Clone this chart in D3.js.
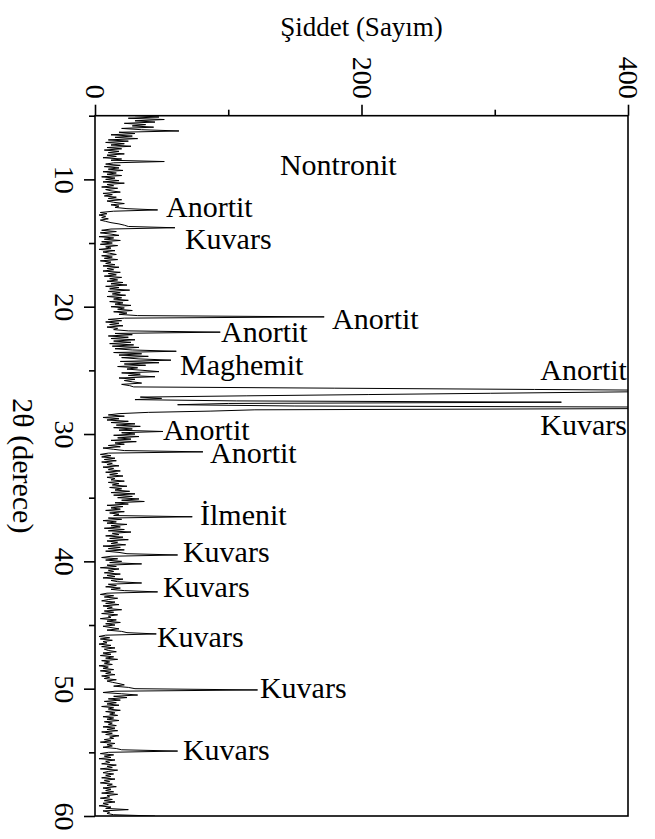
<!DOCTYPE html>
<html>
<head>
<meta charset="utf-8">
<script src="https://cdn.jsdelivr.net/npm/d3@7/dist/d3.min.js"></script>
<style>
  html, body { margin: 0; padding: 0; background: #fff; }
  svg { display: block; }
</style>
</head>
<body>
<svg id="chart" width="655" height="839"></svg>
<script>
// XRD scan: counts recorded every 0.1° from 5.0° to 60.0° (2θ)
const scanStart = 5.0;
const scanStep = 0.1;
const counts = [
  30, 48, 25, 52, 30, 45, 22, 38, 28, 44,      // 5
  20, 35, 63, 18, 30, 12, 28, 15, 32, 10,      // 6
  25, 8, 22, 12, 27, 9, 20, 7, 18, 10,         // 7
  22, 9, 16, 6, 20, 12, 52, 14, 8, 19,         // 8
  7, 18, 10, 21, 6, 16, 9, 20, 5, 15,          // 9
  8, 18, 6, 22, 9, 14, 5, 17, 8, 12,           // 10
  19, 6, 13, 7, 16, 10, 20, 9, 14, 22,         // 11
  12, 18, 15, 24, 47, 14, 4, 9, 3, 8,          // 12
  5, 10, 4, 8, 12, 18, 22, 25, 60, 12,         // 13
  5, 16, 4, 12, 18, 3, 14, 7, 19, 5,           // 14
  13, 4, 17, 8, 12, 3, 15, 6, 11, 16,          // 15
  5, 13, 7, 17, 4, 12, 8, 15, 6, 18,           // 16
  9, 14, 6, 19, 10, 16, 7, 20, 11, 17,         // 17
  9, 21, 12, 24, 8, 18, 11, 26, 10, 19,        // 18
  13, 23, 9, 20, 14, 25, 11, 21, 15, 27,       // 19
  12, 22, 17, 28, 14, 24, 18, 32, 172, 22,     // 20
  10, 20, 8, 18, 11, 21, 9, 17, 14, 25,        // 21
  94, 15, 28, 10, 25, 12, 30, 14, 27, 11,      // 22
  29, 13, 33, 15, 28, 61, 14, 35, 18, 40,      // 23
  20, 33, 57, 19, 48, 22, 38, 17, 32, 24,      // 24
  36, 48, 20, 34, 25, 45, 18, 30, 22, 28,      // 25
  35, 20, 26, 29, 180, 330, 480, 388, 297, 205, // 26
  114, 34, 50, 30, 106, 350, 100, 62, 150, 470, // 27
  420, 120, 87, 40, 18, 10, 22, 6, 18, 9,      // 28
  25, 12, 30, 16, 34, 14, 28, 18, 51, 20,      // 29
  30, 14, 33, 17, 27, 12, 31, 15, 22, 10,      // 30
  19, 6, 14, 22, 81, 10, 4, 12, 5, 15,         // 31
  7, 16, 5, 13, 9, 18, 6, 14, 10, 19,          // 32
  8, 17, 11, 21, 9, 15, 12, 22, 10, 18,        // 33
  13, 24, 11, 20, 15, 26, 12, 30, 14, 28,      // 34
  17, 33, 20, 37, 15, 25, 9, 21, 12, 19,       // 35
  8, 22, 11, 18, 14, 73, 10, 20, 6, 16,        // 36
  9, 24, 12, 19, 7, 22, 10, 27, 13, 18,        // 37
  8, 21, 11, 25, 9, 17, 12, 23, 6, 19,         // 38
  10, 22, 8, 18, 24, 62, 12, 5, 17, 8,         // 39
  20, 11, 35, 9, 16, 4, 18, 10, 14, 7,         // 40
  19, 9, 15, 6, 21, 12, 17, 35, 10, 16,        // 41
  8, 19, 12, 22, 47, 9, 4, 14, 7, 17,          // 42
  10, 5, 15, 8, 18, 6, 13, 9, 20, 7,           // 43
  14, 5, 17, 10, 12, 4, 16, 9, 19, 8,          // 44
  15, 6, 12, 18, 9, 20, 24, 46, 8, 3,          // 45
  11, 4, 13, 6, 9, 3, 12, 5, 15, 7,            // 46
  10, 16, 6, 12, 4, 14, 8, 17, 5, 11,          // 47
  7, 13, 3, 10, 6, 14, 4, 12, 8, 15,           // 48
  5, 11, 7, 16, 9, 13, 18, 22, 14, 25,         // 49
  30, 122, 15, 6, 20, 32, 14, 24, 10, 19,      // 50
  7, 16, 9, 18, 5, 14, 10, 19, 8, 15,          // 51
  11, 17, 6, 14, 9, 18, 7, 13, 10, 16,         // 52
  6, 15, 9, 17, 5, 13, 8, 18, 11, 14,          // 53
  7, 12, 4, 15, 9, 13, 6, 16, 20, 62,          // 54
  10, 4, 14, 7, 12, 3, 15, 8, 11, 5,           // 55
  16, 9, 13, 4, 17, 10, 6, 14, 8, 12,          // 56
  5, 15, 7, 11, 4, 13, 9, 16, 6, 12,           // 57
  8, 14, 5, 17, 9, 11, 4, 13, 7, 15,           // 58
  6, 10, 3, 12, 8, 25, 6, 11, 9, 14,           // 59
  45                                           // 60
];

// Axis ticks
const countMajorTicks = [0, 200, 400];
const countMinorTicks = [100, 300];
const angleMajorTicks = [10, 20, 30, 40, 50, 60];
const angleMinorTicks = [5, 15, 25, 35, 45, 55];

// Phase identifications: name, text anchor (2θ of baseline, count at text edge), side
const phaseNames  = ["Nontronit", "Anortit", "Kuvars", "Anortit", "Anortit", "Maghemit", "Anortit", "Kuvars",
                     "Anortit", "Anortit", "İlmenit", "Kuvars", "Kuvars", "Kuvars", "Kuvars", "Kuvars"];
const phaseTheta  = [9.66, 12.95, 15.47, 21.75, 22.77, 25.36, 25.75, 30.07,
                     30.47, 32.27, 37.14, 40.05, 42.8, 46.72, 50.73, 55.6];
const phaseCount  = [138.8, 53.3, 67.5, 177.9, 94.6, 63.8, 399.2, 399.2,
                     51, 86.3, 78.8, 66, 51, 46.5, 123.8, 66];
const phaseAnchor = ["start", "start", "start", "start", "start", "start", "end", "end",
                     "start", "start", "start", "start", "start", "start", "start", "start"];

const W = 655, H = 839;
const margin = { top: 115.7, right: 27, bottom: 23, left: 95 };
const SERIF = '"Liberation Serif", serif';

const svg = d3.select("#chart");

// Intensity runs left→right along the top, 2θ runs top→bottom
const x = d3.scaleLinear().domain([0, 400]).range([margin.left, W - margin.right]);
const y = d3.scaleLinear().domain([5, 60]).range([margin.top, H - margin.bottom]);

const scan = counts.map((c, i) => ({ theta: +(scanStart + i * scanStep).toFixed(2), count: c }));

svg.append("defs").append("clipPath").attr("id", "plot-clip")
  .append("rect")
  .attr("x", x(0)).attr("y", y(5))
  .attr("width", x(400) - x(0)).attr("height", y(60) - y(5));

const line = d3.line()
  .x(d => x(d.count))
  .y(d => y(d.theta));

svg.append("path")
  .datum(scan)
  .attr("clip-path", "url(#plot-clip)")
  .attr("fill", "none")
  .attr("stroke", "#000")
  .attr("stroke-width", 1)
  .attr("stroke-linejoin", "miter")
  .attr("d", line);

// Frame
svg.append("rect")
  .attr("x", x(0)).attr("y", y(5))
  .attr("width", x(400) - x(0)).attr("height", y(60) - y(5))
  .attr("fill", "none").attr("stroke", "#000").attr("stroke-width", 1.6);

const FS = 28;

// Top axis (counts)
const topMajor = svg.append("g")
  .attr("transform", `translate(0,${y(5)})`)
  .call(d3.axisTop(x).tickValues(countMajorTicks).tickSize(11).tickSizeOuter(0).tickFormat(d3.format("d")));
const topMinor = svg.append("g")
  .attr("transform", `translate(0,${y(5)})`)
  .call(d3.axisTop(x).tickValues(countMinorTicks).tickSize(6).tickSizeOuter(0).tickFormat(""));

// Left axis (2θ)
const leftMajor = svg.append("g")
  .attr("transform", `translate(${x(0)},0)`)
  .call(d3.axisLeft(y).tickValues(angleMajorTicks).tickSize(11).tickSizeOuter(0).tickFormat(d3.format("d")));
const leftMinor = svg.append("g")
  .attr("transform", `translate(${x(0)},0)`)
  .call(d3.axisLeft(y).tickValues(angleMinorTicks).tickSize(6).tickSizeOuter(0).tickFormat(""));

[topMajor, topMinor, leftMajor, leftMinor].forEach(g => {
  g.select(".domain").remove();
  g.selectAll(".tick line").attr("stroke", "#000").attr("stroke-width", 1.6);
  g.attr("font-family", null).attr("font-size", null);
});

topMajor.selectAll(".tick text")
  .attr("x", null).attr("y", null).attr("dy", null)
  .attr("fill", "#000")
  .attr("text-anchor", "end")
  .attr("dominant-baseline", "central")
  .attr("transform", "translate(0,-17) rotate(90)")
  .style("font-family", SERIF)
  .style("font-size", FS + "px");

leftMajor.selectAll(".tick text")
  .attr("x", null).attr("y", null).attr("dy", null)
  .attr("fill", "#000")
  .attr("text-anchor", "middle")
  .attr("transform", "translate(-40,0) rotate(90)")
  .style("font-family", SERIF)
  .style("font-size", FS + "px");

// Axis titles
svg.append("text")
  .attr("x", (x(0) + x(400)) / 2).attr("y", 36)
  .attr("text-anchor", "middle")
  .style("font-family", SERIF)
  .style("font-size", "27px")
  .text("Şiddet (Sayım)");

svg.append("text")
  .attr("transform", `translate(13,${(y(5) + y(60)) / 2}) rotate(90)`)
  .attr("text-anchor", "middle")
  .style("font-family", SERIF)
  .style("font-size", "30px")
  .text("2θ (derece)");

// Phase labels
svg.append("g").selectAll("text")
  .data(phaseNames)
  .join("text")
  .attr("x", (d, i) => x(phaseCount[i]))
  .attr("y", (d, i) => y(phaseTheta[i]))
  .attr("text-anchor", (d, i) => phaseAnchor[i])
  .style("font-family", SERIF)
  .style("font-size", "30px")
  .text(d => d);
</script>
</body>
</html>
